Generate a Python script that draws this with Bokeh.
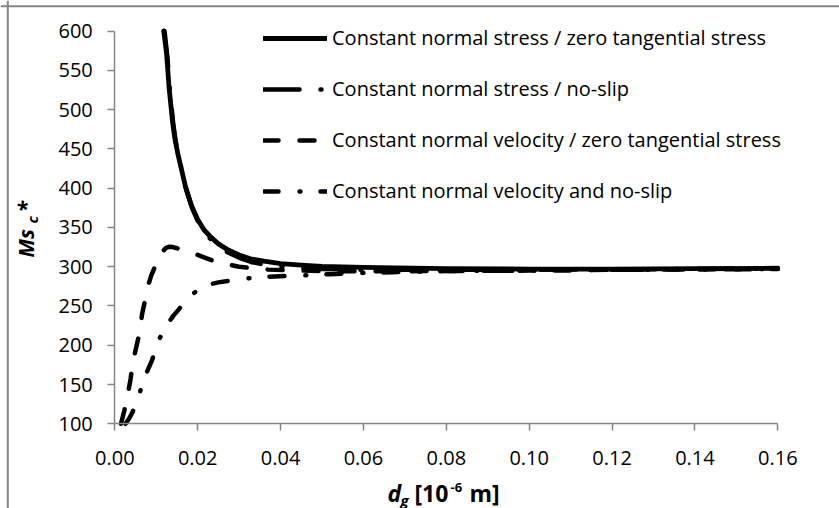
import math

from bokeh.embed import file_html
from bokeh.models import (Label, Legend, LegendItem, NumeralTickFormatter,
                          Range1d, SingleIntervalTicker, Span)
from bokeh.plotting import figure
from bokeh.resources import INLINE

# d_g [10^-6 m] versus Ms_c* for four boundary-condition combinations
x_stress_zero_tangential = [0.0118, 0.0125, 0.0131, 0.0139, 0.0145, 0.0152, 0.0171, 0.0185,
                            0.0200, 0.0215, 0.0233, 0.0250, 0.0271, 0.0300, 0.0327, 0.0360,
                            0.0400, 0.0450, 0.0500, 0.0600, 0.0800, 0.1000, 0.1200, 0.1400,
                            0.1600]
y_stress_zero_tangential = [600, 571, 528, 486, 463, 444, 401, 378,
                            360, 347, 337, 329, 322, 315, 310, 307,
                            304, 302, 300.5, 299, 297.5, 297, 297, 297.5,
                            298]

x_stress_no_slip = [0.0120, 0.0127, 0.0133, 0.0141, 0.0147, 0.0154, 0.0173, 0.0187,
                    0.0202, 0.0217, 0.0235, 0.0252, 0.0273, 0.0302, 0.0329, 0.0362,
                    0.0402, 0.0452, 0.0502, 0.0602, 0.0802, 0.1002, 0.1202, 0.1402,
                    0.1600]
y_stress_no_slip = [600, 566, 524, 482, 459, 440, 397, 374,
                    356, 343, 333, 325, 318, 311, 306, 302.5,
                    300, 298, 297, 296, 296, 296, 296.5, 297,
                    297.5]

x_velocity_zero_tangential = [0.0015, 0.0023, 0.0031, 0.0038, 0.0045, 0.0052, 0.0059, 0.0066,
                              0.0073, 0.0080, 0.0088, 0.0097, 0.0106, 0.0115, 0.0124, 0.0132,
                              0.0140, 0.0150, 0.0165, 0.0180, 0.0200, 0.0220, 0.0243, 0.0270,
                              0.0300, 0.0331, 0.0370, 0.0410, 0.0500, 0.0600, 0.0800, 0.1000,
                              0.1200, 0.1400, 0.1600]
y_velocity_zero_tangential = [100, 117, 136, 157, 182, 198, 214, 240,
                              257, 275, 289, 300, 311, 319, 324, 325.5,
                              325, 323.5, 321, 318.5, 315, 311, 306.5, 303,
                              300, 298, 296.5, 295.5, 294.5, 294, 294.5, 295,
                              296, 296.5, 297]

x_velocity_no_slip = [0.0026, 0.0035, 0.0042, 0.0050, 0.0058, 0.0065, 0.0075, 0.0090,
                      0.0104, 0.0118, 0.0130, 0.0142, 0.0155, 0.0170, 0.0185, 0.0205,
                      0.0225, 0.0250, 0.0275, 0.0317, 0.0365, 0.0410, 0.0460, 0.0520,
                      0.0590, 0.0670, 0.0800, 0.1000, 0.1200, 0.1400, 0.1600]
y_velocity_no_slip = [100, 107, 114, 124, 135, 148, 163, 181,
                      205, 218, 229, 238, 246, 256, 264, 272,
                      277, 280, 282, 285, 287, 288, 289, 290.5,
                      292, 293, 294.5, 295, 296, 296.5, 297]

series_labels = [
    "Constant normal stress / zero tangential stress",
    "Constant normal stress / no-slip",
    "Constant normal velocity / zero tangential stress",
    "Constant normal velocity and no-slip",
]

X_START, X_END, X_STEP = 0.0, 0.16, 0.02
Y_START, Y_END, Y_STEP = 100, 600, 50

FONT = "Open Sans"
GRAY = "#868686"

# Page layout: the plotting area fills the whole canvas; the axes are pinned
# inside it so that titles and legend can sit anywhere on the page.
W, H = 839, 508
AX_L, AX_R = 114.3, 777.3     # pixel columns of x = 0.00 and x = 0.16
AX_T, AX_B = 30.5, 423.3      # pixel rows of y = 600 and y = 100


def data_x(px):
    return X_START + (px - AX_L) / (AX_R - AX_L) * (X_END - X_START)


def data_y(py):
    return Y_START + (AX_B - py) / (AX_B - AX_T) * (Y_END - Y_START)


p = figure(width=W, height=H, output_backend="svg", toolbar_location=None,
           x_range=Range1d(data_x(0), data_x(W)), y_range=Range1d(data_y(H), data_y(0)),
           min_border=0, min_border_left=0, min_border_right=0,
           min_border_top=0, min_border_bottom=0)
p.outline_line_color = None
p.xgrid.visible = False
p.ygrid.visible = False

xa, ya = p.xaxis[0], p.yaxis[0]
xa.fixed_location = Y_START
ya.fixed_location = X_START
xa.bounds = (X_START, X_END)
ya.bounds = (Y_START, Y_END)
for ax in (xa, ya):
    ax.axis_line_color = GRAY
    ax.axis_line_width = 1.5
    ax.major_tick_line_color = GRAY
    ax.major_tick_line_width = 1.5
    ax.major_tick_out = 7
    ax.major_tick_in = 0
    ax.minor_tick_line_color = None
    ax.major_label_text_font = FONT
    ax.major_label_text_font_size = "20px"
    ax.major_label_text_color = "black"

xa.ticker = SingleIntervalTicker(interval=X_STEP, num_minor_ticks=0)
xa.formatter = NumeralTickFormatter(format="0.00")
xa.major_label_standoff = 20
ya.ticker = SingleIntervalTicker(interval=Y_STEP, num_minor_ticks=0)
ya.major_label_standoff = 15

# chart-area border: left and top edges (the rest runs off the page)
p.add_layout(Span(location=data_x(7.3), dimension="height",
                  line_color=GRAY, line_width=2))
p.add_layout(Span(location=data_y(5.8), dimension="width",
                  line_color=GRAY, line_width=2))

common = dict(line_color="black", line_cap="round", line_join="round")
r1 = p.line(x_stress_zero_tangential, y_stress_zero_tangential, line_width=4.8, **common)
r2 = p.line(x_stress_no_slip, y_stress_no_slip, line_width=4.5,
            line_dash="36 21 1 21", **common)
r3 = p.line(x_velocity_zero_tangential, y_velocity_zero_tangential, line_width=4.5,
            line_dash="15 21", **common)
r4 = p.line(x_velocity_no_slip, y_velocity_no_slip, line_width=4.5,
            line_dash="15 21 1 20", **common)

ITEM_H, ITEM_GAP = 28, 23
legend_h = 4 * ITEM_H + 3 * ITEM_GAP
legend_top = 37.7 - ITEM_H / 2
legend = Legend(
    items=[LegendItem(label=lab, renderers=[r]) for lab, r in
           zip(series_labels, [r1, r2, r3, r4])],
    location=(263, H - legend_top - legend_h), glyph_width=64,
    glyph_height=ITEM_H, label_height=ITEM_H, spacing=ITEM_GAP,
    padding=0, margin=0, label_standoff=5,
    border_line_color=None, background_fill_alpha=0,
    label_text_font=FONT, label_text_font_size="20px", label_text_color="black",
)
p.add_layout(legend)

# x axis title: d_g [10^-6 m]  (anchors are the vertical middles of each piece)
x_title = [
    ("d", 387, 492, "23px", "bold italic"),
    ("g", 400, 499, "15px", "bold italic"),
    ("[10", 414, 492, "23px", "bold"),
    ("-6", 450, 487, "13px", "bold"),
    ("m]", 469, 492, "23px", "bold"),
]
for txt, px, py, size, style in x_title:
    p.add_layout(Label(x=data_x(px), y=data_y(py), text=txt, text_font=FONT,
                       text_font_size=size, text_font_style=style, text_color="black",
                       text_align="left", text_baseline="middle"))

# y axis title: Ms_c* (rotated, anchors are the middles of each piece)
y_title = [
    ("Ms", 25, 257, "21px"),
    ("c", 31, 223, "15px"),
    ("*", 25, 212, "21px"),
]
for txt, px, py, size in y_title:
    p.add_layout(Label(x=data_x(px), y=data_y(py), text=txt, text_font=FONT,
                       text_font_size=size, text_font_style="bold italic",
                       text_color="black", angle=math.pi / 2,
                       text_align="left", text_baseline="middle"))

open("out.html", "w").write(file_html(p, INLINE))
